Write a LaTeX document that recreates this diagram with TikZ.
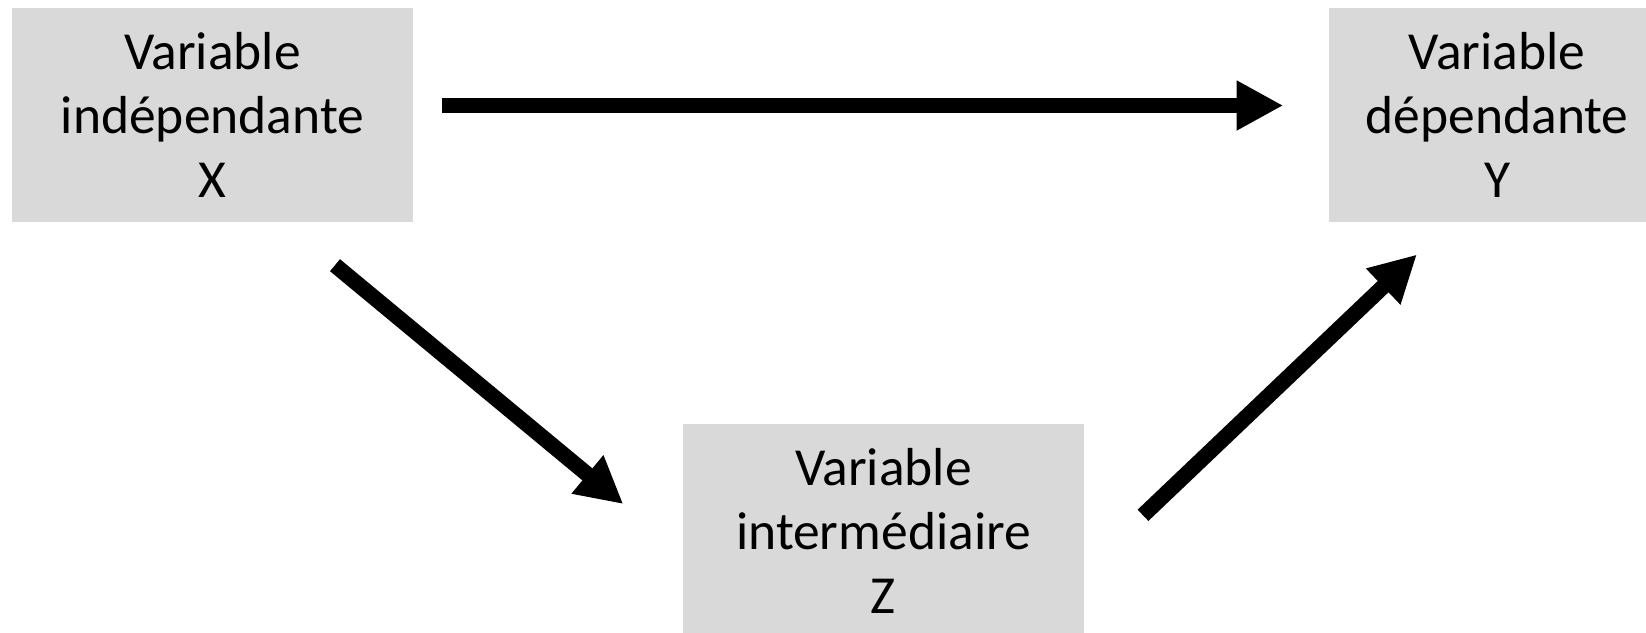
\documentclass[tikz,border=0pt]{standalone}
\usepackage{fontspec}
\setmainfont{Carlito}
\usetikzlibrary{arrows.meta,calc}
\definecolor{boxgray}{HTML}{D9D9D9}
\tikzset{
  varbox/.style={fill=boxgray,draw=none,inner sep=0pt,minimum height=214pt,align=center,
    font=\fontsize{53.5}{64}\selectfont},
  bigarrow/.style={draw=black,line width=15.6pt,-{Triangle[length=46.6pt,width=46.6pt]}}
}
\begin{document}
\begin{tikzpicture}[x=1pt,y=-1pt]
\useasboundingbox (0,0) rectangle (1646,632);
\node[varbox,minimum width=401pt] (X) at (212.5,115) {Variable\\indépendante\\X};
\node[varbox,minimum width=336pt,anchor=west] (Y) at (1329,115) {Variable\\dépendante\\Y};
\node[varbox,minimum width=401pt] (Z) at (883.5,531) {Variable\\intermédiaire\\Z};
\draw[bigarrow] ($(X.east)+(29,-9.5)$) -- ($(Y.west)+(-45.7,-9.5)$);
\draw[bigarrow] ($(X.south)+(122.5,43)$) -- ($(Z.north)+(-260.2,80.3)$);
\draw[bigarrow] ($(Z.north)+(259.5,91.5)$) -- ($(Y.south)+(-80.3,32.3)$);
\end{tikzpicture}
\end{document}
